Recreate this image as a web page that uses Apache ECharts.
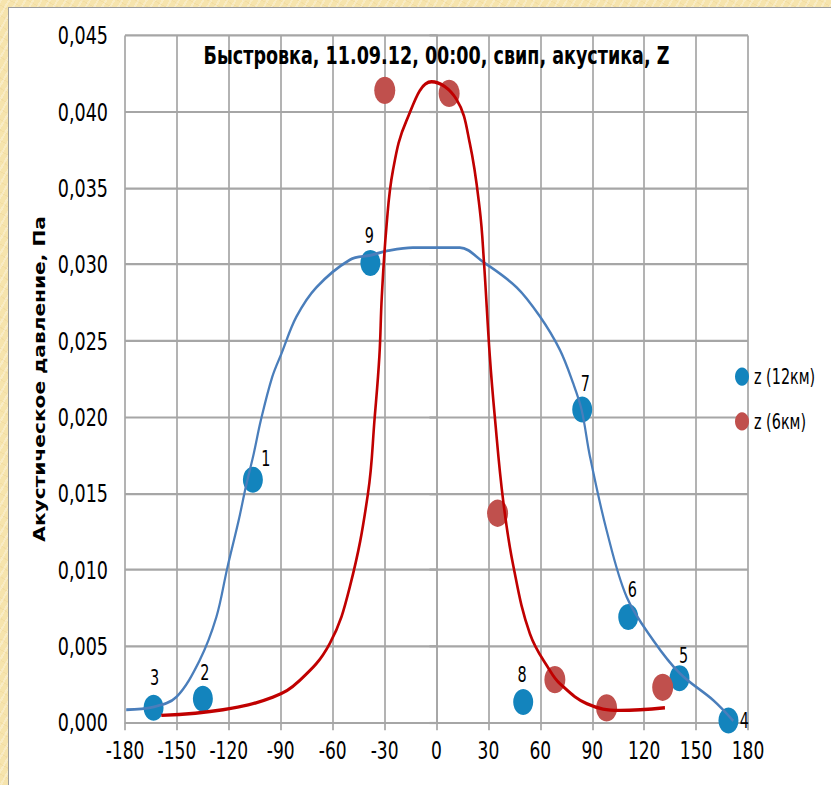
<!DOCTYPE html>
<html>
<head>
<meta charset="utf-8">
<script src="https://cdn.jsdelivr.net/npm/echarts@6/dist/echarts.min.js"></script>
<style>
  html, body { margin: 0; padding: 0; }
  body {
    width: 831px; height: 785px; overflow: hidden; position: relative;
    background-color: #f6e4ad;
    background-image: repeating-linear-gradient(120deg, rgba(255,255,255,0.28) 0 2px, rgba(0,0,0,0) 2px 7px),
                      repeating-linear-gradient(30deg, rgba(214,170,90,0.12) 0 1px, rgba(0,0,0,0) 1px 9px);
  }
  #frame {
    position: absolute; left: 8px; top: 7px; width: 823px; height: 778px;
    box-sizing: border-box; background: #ffffff; overflow: hidden;
    border-left: 1px solid #9c9c9c; border-top: 1px solid #9c9c9c;
  }
  /* the slide stretches the chart vertically */
  #chart {
    position: absolute; left: 0; top: 0; width: 822px; height: 597.69px;
    transform: scaleY(1.3); transform-origin: 0 0;
  }
</style>
</head>
<body>
<div id="frame"><div id="chart"></div></div>
<script>
// Azimuth (degrees) and acoustic pressure (Pa), receiver at 12 km
const pointIds12 = ['1', '2', '3', '4', '5', '6', '7', '8', '9'];
const azimuth12 = [-106.1, -135, -163.5, 168.7, 140.4, 110.8, 84.2, 50.1, -38.2];
const pressure12 = [0.0159, 0.00155, 0.00096, 0.00013, 0.0029, 0.0069, 0.0205, 0.00133, 0.0301];

// Receiver at 6 km
const azimuth6 = [-29.9, 7.3, 35.3, 68.4, 98.3, 130.7];
const pressure6 = [0.0414, 0.0412, 0.0137, 0.0028, 0.00095, 0.0023];

// Trend curves
const trendX12 = [-179.3, -163.9, -150.4, -136.9, -127.2, -120.9, -114.3, -110.2, -105.6, -101.5, -95, -89.6, -81, -69.4, -50.1, -38, -28, -13.7, 0, 13.5, 27, 46.3, 59.7, 71.3, 79, 83.9, 88.7, 98.3, 109.9, 125.3, 140.8, 160, 171.5];
const trendY12 = [0.00083, 0.0010, 0.00166, 0.00406, 0.0069, 0.01011, 0.01324, 0.01542, 0.01761, 0.01979, 0.0226, 0.02416, 0.02656, 0.0285, 0.0303, 0.0306, 0.0309, 0.0311, 0.0311, 0.0311, 0.03016, 0.0285, 0.0266, 0.0244, 0.0222, 0.02045, 0.0174, 0.01258, 0.00821, 0.00537, 0.00319, 0.00144, 0.0001];

const trendX6 = [-159, -123.4, -94.5, -79, -61.7, -50.1, -39.6, -35.7, -33, -31.6, -28.9, -25.1, -17.4, -2.9, 11.6, 19.3, 25, 27.4, 30.8, 33.7, 38.5, 44.3, 54, 65.5, 71.3, 86.8, 106, 132];
const trendY6 = [0.00046, 0.00083, 0.00166, 0.00275, 0.00516, 0.00887, 0.01499, 0.0200, 0.0240, 0.0279, 0.0325, 0.0362, 0.0394, 0.04196, 0.0408, 0.0379, 0.0336, 0.0302, 0.0240, 0.0200, 0.01455, 0.0103, 0.0058, 0.0034, 0.00254, 0.00123, 0.00079, 0.00096];

const xTicks = { min: -180, max: 180, step: 30 };
const yTicks = { min: 0, max: 0.045, step: 0.005 };

const chartTitle = 'Быстровка, 11.09.12, 00:00, свип, акустика, Z';
const yAxisTitle = 'Акустическое давление, Па';
const seriesNames = ['z (12км)', 'z (6км)'];

// Vertical stretch applied to the chart box (see #chart)
const STRETCH = 1.3;

// Label offsets for the numbered points (screen pixels, relative to marker centre)
const labelOffset = {
  '1': [13, -21], '2': [2, -26], '3': [1, -30], '4': [16, 0], '5': [4, -22],
  '6': [4, -27], '7': [3, -26], '8': [-1, -27], '9': [-1, -27]
};

const FONT = "'DejaVu Sans Condensed','DejaVu Sans',Roboto,sans-serif";
const BLUE_DOT = '#1384bd';
const RED_DOT = '#c0504d';
const GRID_GREY = '#a6a6a6';

const zip = (xs, ys) => xs.map((x, i) => [x, ys[i]]);

const chart = echarts.init(document.getElementById('chart'), null, { renderer: 'svg' });

const points12 = azimuth12.map((x, i) => {
  const off = labelOffset[pointIds12[i]];
  return {
    name: pointIds12[i],
    value: [x, pressure12[i]],
    label: { offset: [off[0], off[1] / STRETCH] }
  };
});

chart.setOption({
  animation: false,
  backgroundColor: '#ffffff',
  textStyle: { fontFamily: FONT, color: '#000' },
  graphic: [{
    type: 'text', x: 427.5, y: 36.2, z: 100,
    style: {
      text: chartTitle, align: 'center', verticalAlign: 'middle',
      font: "bold 19.5px " + FONT, fill: '#000'
    }
  }],
  legend: {
    orient: 'vertical', left: 721, top: 270.5,
    itemWidth: 14, itemHeight: 14.6, itemGap: 18.5,
    icon: 'circle',
    textStyle: { fontFamily: FONT, fontSize: 16, color: '#000' },
    data: [
      { name: seriesNames[0], itemStyle: { color: BLUE_DOT } },
      { name: seriesNames[1], itemStyle: { color: RED_DOT } }
    ]
  },
  grid: { left: 116, right: 83, top: 21.08, bottom: 48.46, containLabel: false },
  xAxis: {
    type: 'value', min: xTicks.min, max: xTicks.max, interval: xTicks.step,
    axisLine: { onZero: true, lineStyle: { color: GRID_GREY, width: 1.7 } },
    axisTick: { show: true, length: 6, lineStyle: { color: GRID_GREY, width: 1.7 } },
    axisLabel: { margin: 12, fontSize: 19, color: '#000', fontFamily: FONT },
    splitLine: { show: true, lineStyle: { color: GRID_GREY, width: 1.7 } }
  },
  yAxis: {
    type: 'value', min: yTicks.min, max: yTicks.max, interval: yTicks.step,
    name: yAxisTitle, nameLocation: 'middle', nameGap: 55, nameRotate: 90,
    nameTextStyle: { fontFamily: "'DejaVu Sans','Liberation Sans',sans-serif", fontWeight: 'bold', fontSize: 15.5, color: '#000' },
    axisLine: { show: true, lineStyle: { color: GRID_GREY, width: 1.7 } },
    axisTick: { show: true, length: 7, lineStyle: { color: GRID_GREY, width: 1.7 } },
    axisLabel: {
      margin: 17, fontSize: 19.5, color: '#000', fontFamily: FONT,
      formatter: v => v.toFixed(3).replace('.', ',')
    },
    splitLine: { show: true, lineStyle: { color: GRID_GREY, width: 1.7 } }
  },
  series: [
    {
      name: seriesNames[0], type: 'scatter', z: 3,
      symbol: 'circle', symbolSize: 20,
      itemStyle: { color: BLUE_DOT, opacity: 1 },
      label: {
        show: true, position: 'inside', formatter: p => p.name,
        fontFamily: FONT, fontSize: 16, color: '#000'
      },
      data: points12
    },
    {
      name: seriesNames[1], type: 'scatter', z: 3,
      symbol: 'circle', symbolSize: 21,
      itemStyle: { color: RED_DOT, opacity: 1 },
      data: zip(azimuth6, pressure6)
    },
    {
      name: 'trend12', type: 'line', z: 4, smooth: 0.35, showSymbol: false, silent: true,
      lineStyle: { color: '#4a7ebb', width: 2.2 },
      data: zip(trendX12, trendY12)
    },
    {
      name: 'trend6', type: 'line', z: 4, smooth: 0.4, showSymbol: false, silent: true,
      lineStyle: { color: '#c00000', width: 2.6 },
      data: zip(trendX6, trendY6)
    }
  ]
});
</script>
</body>
</html>
